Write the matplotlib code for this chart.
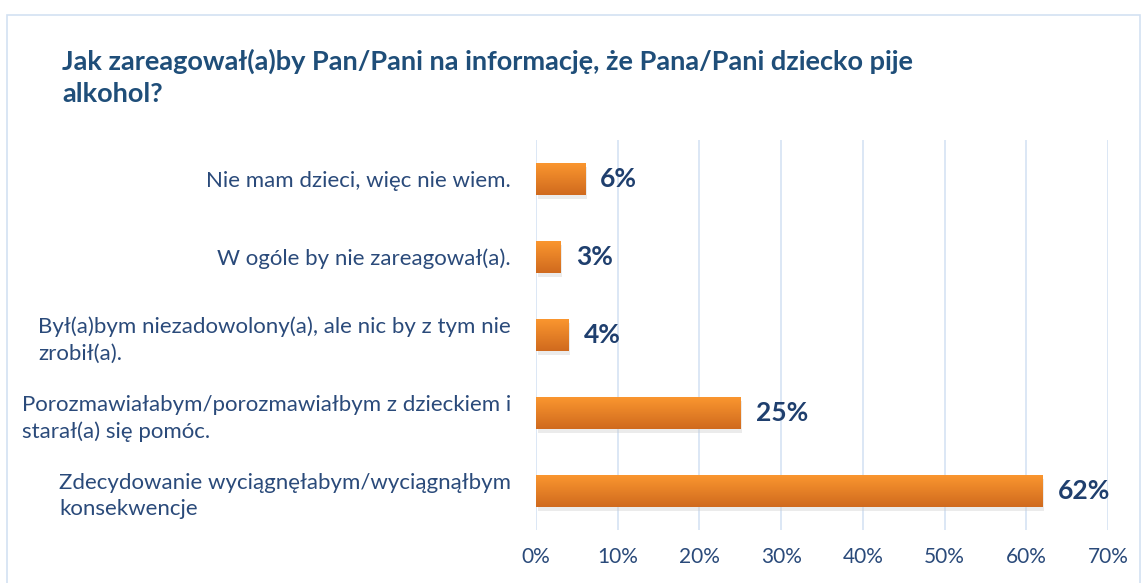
import numpy as np
import matplotlib.pyplot as plt
from matplotlib.patches import Rectangle
from matplotlib.colors import LinearSegmentedColormap

plt.rcParams['font.family'] = ['Lato', 'DejaVu Sans']

categories = [
    "Nie mam dzieci, więc nie wiem.",
    "W ogóle by nie zareagował(a).",
    "Był(a)bym niezadowolony(a), ale nic by z tym nie\nzrobił(a).",
    "Porozmawiałabym/porozmawiałbym z dzieckiem i\nstarał(a) się pomóc.",
    "Zdecydowanie wyciągnęłabym/wyciągnąłbym\nkonsekwencje",
]
values = [6, 3, 4, 25, 62]
xticks = [0, 10, 20, 30, 40, 50, 60, 70]
title = "Jak zareagował(a)by Pan/Pani na informację, że Pana/Pani dziecko pije\nalkohol?"

W, H = 1147, 583
fig = plt.figure(figsize=(W / 100, H / 100), dpi=100)
fig.patch.set_facecolor('white')

# outer frame
fig.add_artist(Rectangle((7 / W, -0.02), 1133 / W, 1 - 15 / H + 0.02,
                         transform=fig.transFigure, fill=False,
                         edgecolor='#D3E1F2', linewidth=1.2))

ax = fig.add_axes([536 / W, 1 - 530 / H, (1108 - 536) / W, (530 - 140) / H])
ypos = np.arange(len(categories))
bars = ax.barh(ypos, values, height=0.41, color='none', zorder=3)

# gradient fill + soft shadow for each bar
grad = np.linspace(0, 1, 64).reshape(-1, 1)
cmap = LinearSegmentedColormap.from_list('org', ['#FA962F', '#D06A1E'])
for b in bars:
    x0, y0, w, h = b.get_x(), b.get_y(), b.get_width(), b.get_height()
    ax.add_patch(Rectangle((x0 + 0.2, y0 + 0.05), w, h, color='#C8C8C8',
                           alpha=0.35, zorder=2, linewidth=0))
    ax.imshow(grad, cmap=cmap, aspect='auto', extent=(x0, x0 + w, y0 + h, y0),
              zorder=3, interpolation='bicubic')
ax.set_ylim(len(categories) - 0.5, -0.5)
ax.set_xlim(0, 70)

for b, v in zip(bars, values):
    ax.annotate(f"{v}%", (b.get_width(), b.get_y() + b.get_height() / 2),
                xytext=(11, 0), textcoords='offset points', ha='left', va='center',
                fontsize=19, fontweight='bold', color='#1F3F6E')

ax.set_xticks(xticks)
ax.set_xticklabels([f"{t}%" for t in xticks], fontsize=15, color='#2A4A7A')
ax.set_yticks(ypos)
ax.set_yticklabels(categories, fontsize=16, color='#2A4A7A',
                   multialignment='left', linespacing=1.4)
ax.tick_params(axis='both', length=0)
ax.tick_params(axis='x', pad=12)
ax.tick_params(axis='y', pad=18)
ax.grid(axis='x', color='#D6E3F3', linewidth=1.2, zorder=0)
ax.set_axisbelow(True)
for s in ax.spines.values():
    s.set_visible(False)

fig.text(62 / W, 1 - 49 / H, title, fontsize=19.5, fontweight='bold', color='#1F4E79',
         ha='left', va='top', linespacing=1.4)

fig.savefig('out.png', dpi=100)
